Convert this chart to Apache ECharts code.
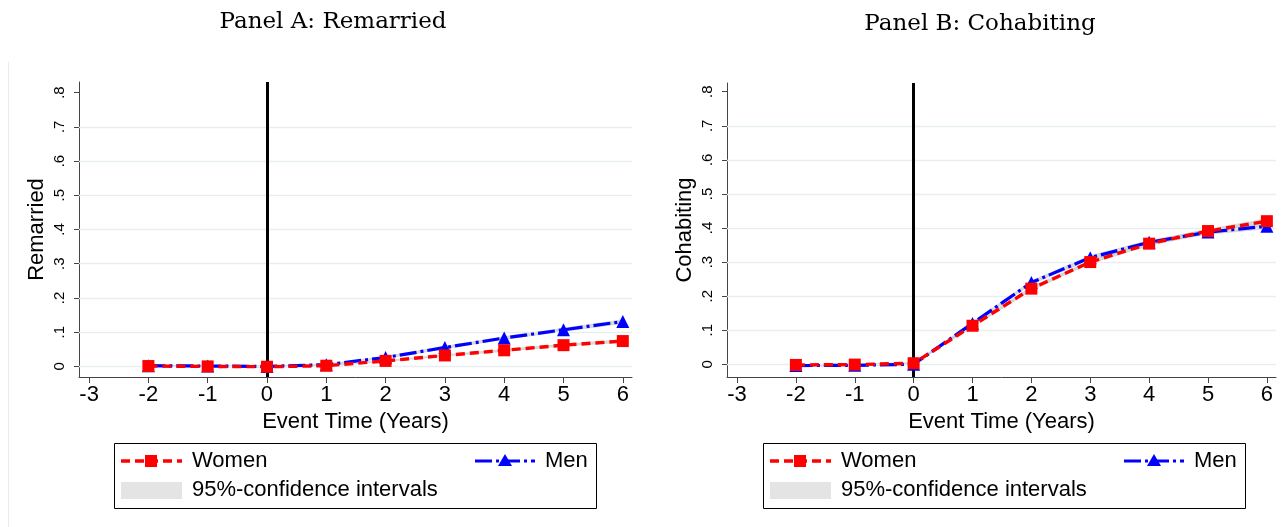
<!DOCTYPE html>
<html>
<head>
<meta charset="utf-8">
<script src="https://cdn.jsdelivr.net/npm/echarts@6/dist/echarts.min.js"></script>
<style>html,body{margin:0;padding:0;background:#fff}#c{width:1287px;height:527px}</style>
</head>
<body>
<div id="c"></div>
<script>
// ---- data ----
const eventTime = [-2, -1, 0, 1, 2, 3, 4, 5, 6];
const xTicks = [-3, -2, -1, 0, 1, 2, 3, 4, 5, 6];
const yTicks = [0, 0.1, 0.2, 0.3, 0.4, 0.5, 0.6, 0.7, 0.8];
const gridVals = [0, 0.1, 0.2, 0.3, 0.4, 0.5, 0.6, 0.7];

const remWomen = [0.001, 0.000, -0.001, 0.002, 0.016, 0.032, 0.047, 0.062, 0.074];
const remMen   = [0.002, 0.001, 0.000, 0.005, 0.026, 0.055, 0.083, 0.107, 0.131];
const remWomenLo = [-0.001, -0.002, -0.003, 0.000, 0.013, 0.029, 0.043, 0.058, 0.069];
const remWomenHi = [0.003, 0.002, 0.001, 0.004, 0.019, 0.035, 0.051, 0.066, 0.079];
const remMenLo = [-0.001, -0.002, -0.003, 0.002, 0.022, 0.050, 0.078, 0.101, 0.124];
const remMenHi = [0.005, 0.004, 0.003, 0.008, 0.030, 0.060, 0.088, 0.113, 0.138];

const cohWomen = [-0.002, -0.001, 0.003, 0.113, 0.222, 0.300, 0.354, 0.391, 0.420];
const cohMen   = [-0.004, -0.003, 0.000, 0.120, 0.240, 0.313, 0.358, 0.388, 0.405];
const cohWomenLo = [-0.005, -0.004, 0.000, 0.108, 0.216, 0.294, 0.347, 0.384, 0.412];
const cohWomenHi = [0.001, 0.002, 0.006, 0.118, 0.228, 0.306, 0.361, 0.398, 0.428];
const cohMenLo = [-0.007, -0.006, -0.003, 0.115, 0.234, 0.306, 0.351, 0.380, 0.396];
const cohMenHi = [-0.001, 0.000, 0.003, 0.125, 0.246, 0.320, 0.365, 0.396, 0.414];

const panelTitles = ['Panel A: Remarried', 'Panel B: Cohabiting'];
const yNames = ['Remarried', 'Cohabiting'];
const xName = 'Event Time (Years)';
const legendNames = ['Women', 'Men', '95%-confidence intervals'];

// ---- build ----
const RED = '#ff0000', BLUE = '#0000ff', CI = 'rgba(200,200,200,0.7)';
const SANS = 'Liberation Sans, Arial, sans-serif';
const pair = arr => eventTime.map((x, i) => [x, arr[i]]);

const grids = [
  {left: 79, top: 82, width: 553, height: 295},
  {left: 727, top: 83, width: 549, height: 294}
];
const yRange = [[-0.031, 0.831], [-0.0374, 0.8256]];

const xAxes = grids.map((g, k) => ({
  type: 'value', gridIndex: k, min: -3.17, max: 6.155,
  name: xName, nameLocation: 'middle', nameGap: 31,
  nameTextStyle: {fontFamily: SANS, fontSize: 22, color: '#000'},
  axisLine: {show: true, onZero: false, lineStyle: {color: '#444', width: 1}},
  axisTick: {show: true, inside: false, length: 6, customValues: xTicks, lineStyle: {color: '#444'}},
  axisLabel: {show: true, customValues: xTicks, margin: 7, fontFamily: SANS, fontSize: 22, color: '#000',
    formatter: v => String(v)},
  splitLine: {show: false}
}));

const yAxes = grids.map((g, k) => ({
  type: 'value', gridIndex: k, min: yRange[k][0], max: yRange[k][1],
  name: yNames[k], nameLocation: 'middle', nameGap: 31, nameRotate: 90,
  nameTextStyle: {fontFamily: SANS, fontSize: 22, color: '#000'},
  axisLine: {show: true, onZero: false, lineStyle: {color: '#444', width: 1}},
  axisTick: {show: true, inside: false, length: 5, customValues: yTicks, lineStyle: {color: '#444'}},
  axisLabel: {show: true, customValues: yTicks, rotate: 90, margin: 12, fontFamily: SANS, fontSize: 15, color: '#000',
    formatter: v => v === 0 ? '0' : '.' + Math.round(v * 10)},
  splitLine: {show: false}
}));

function bandSeries(k, lo, hi) {
  return {
    type: 'custom', xAxisIndex: k, yAxisIndex: k, silent: true, z: 3, clip: true,
    data: eventTime.map((x, i) => [x, lo[i], hi[i]]),
    renderItem: function (params, api) {
      if (params.dataIndex !== 0) return null;
      const top = eventTime.map((x, i) => api.coord([x, hi[i]]));
      const bot = eventTime.map((x, i) => api.coord([x, lo[i]])).reverse();
      return {type: 'polygon', shape: {points: top.concat(bot)}, style: {fill: CI}};
    }
  };
}

function panelSeries(k, women, men, wLo, wHi, mLo, mHi) {
  const base = {xAxisIndex: k, yAxisIndex: k, silent: true, animation: false};
  return [
    Object.assign({}, base, {
      type: 'line', data: [], z: 1, symbol: 'none',
      markLine: {silent: true, symbol: 'none', label: {show: false}, animation: false,
        lineStyle: {color: '#e6eef1', width: 1.3, type: 'solid'},
        data: gridVals.map(v => ({yAxis: v}))}
    }),
    Object.assign({}, base, {
      type: 'line', data: [], z: 2, symbol: 'none',
      markLine: {silent: true, symbol: 'none', label: {show: false}, animation: false,
        lineStyle: {color: '#000', width: 3, type: 'solid'},
        data: [{xAxis: 0}]}
    }),
    bandSeries(k, mLo, mHi),
    bandSeries(k, wLo, wHi),
    Object.assign({}, base, {
      name: 'Men', type: 'line', data: pair(men), z: 5,
      symbol: 'triangle', symbolSize: 13,
      itemStyle: {color: BLUE},
      lineStyle: {color: BLUE, width: 3.2, type: [17, 4, 3, 4]}
    }),
    Object.assign({}, base, {
      name: 'Women', type: 'line', data: pair(women), z: 6,
      symbol: 'rect', symbolSize: 12,
      itemStyle: {color: RED},
      lineStyle: {color: RED, width: 3.4, type: [9, 5]}
    })
  ];
}

function legendGraphics(ox) {
  const y1 = 461, y2 = 490;
  return [
    {type: 'rect', shape: {x: ox + 114.5, y: 443.5, width: 482, height: 65},
      style: {fill: '#fff', stroke: '#000', lineWidth: 1}},
    {type: 'line', shape: {x1: ox + 121, y1: y1, x2: ox + 182, y2: y1},
      style: {stroke: RED, lineWidth: 3.4, lineDash: [9, 5]}},
    {type: 'rect', shape: {x: ox + 145, y: y1 - 6, width: 12, height: 12}, style: {fill: RED}},
    {type: 'text', style: {x: ox + 192, y: y1, text: legendNames[0], font: '22px ' + SANS, fill: '#000', verticalAlign: 'middle'}},
    {type: 'line', shape: {x1: ox + 475, y1: y1, x2: ox + 535, y2: y1},
      style: {stroke: BLUE, lineWidth: 3.2, lineDash: [17, 4, 3, 4]}},
    {type: 'polygon', shape: {points: [[ox + 505, y1 - 7], [ox + 498, y1 + 5], [ox + 512, y1 + 5]]}, style: {fill: BLUE}},
    {type: 'text', style: {x: ox + 545, y: y1, text: legendNames[1], font: '22px ' + SANS, fill: '#000', verticalAlign: 'middle'}},
    {type: 'rect', shape: {x: ox + 121, y: 482, width: 61, height: 17}, style: {fill: '#e4e4e4'}},
    {type: 'text', style: {x: ox + 192, y: y2, text: legendNames[2], font: '22px ' + SANS, fill: '#000', verticalAlign: 'middle'}}
  ];
}

const titleStyle = {fontFamily: 'DejaVu Serif, serif', fontWeight: 'normal', fontSize: 23, color: '#000'};
const option = {
  animation: false,
  backgroundColor: '#fff',
  title: [
    {text: panelTitles[0], left: 328, top: 6, textAlign: 'center', textStyle: titleStyle},
    {text: panelTitles[1], left: 975, top: 8, textAlign: 'center', textStyle: titleStyle}
  ],
  grid: grids,
  xAxis: xAxes,
  yAxis: yAxes,
  series: [].concat(
    panelSeries(0, remWomen, remMen, remWomenLo, remWomenHi, remMenLo, remMenHi),
    panelSeries(1, cohWomen, cohMen, cohWomenLo, cohWomenHi, cohMenLo, cohMenHi)
  ),
  graphic: [
    {type: 'line', shape: {x1: 8.5, y1: 62, x2: 8.5, y2: 527}, style: {stroke: '#e6ecef', lineWidth: 1}}
  ].concat(legendGraphics(0), legendGraphics(649))
};

const chart = echarts.init(document.getElementById('c'), null, {renderer: 'canvas'});
chart.setOption(option);
</script>
</body>
</html>
